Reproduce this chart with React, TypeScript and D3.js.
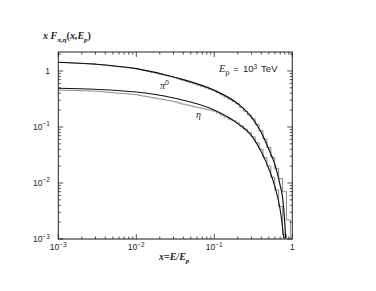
import React from "react";
import * as d3 from "d3";

// smooth curves x F(x)
const piX = [0.001, 0.003, 0.01, 0.03, 0.1, 0.2, 0.3, 0.4, 0.5, 0.6, 0.7, 0.75, 0.8, 0.83];
const piY = [1.43, 1.32, 1.1, 0.78, 0.45, 0.26, 0.15, 0.08, 0.04, 0.021, 0.009, 0.0055, 0.002, 0.0008];

const etaX = [0.001, 0.003, 0.01, 0.03, 0.1, 0.2, 0.3, 0.4, 0.5, 0.6, 0.7, 0.78];
const etaY = [0.49, 0.47, 0.42, 0.33, 0.2, 0.115, 0.07, 0.036, 0.018, 0.0085, 0.0033, 0.001];

// histogram bin edges (20 per decade)
const binEdges = [
  0.001, 0.001059, 0.001189, 0.001334, 0.001496, 0.001679, 0.001884, 0.002113, 0.002371, 0.002661,
  0.002985, 0.00335, 0.003758, 0.004217, 0.004732, 0.005309, 0.005957, 0.006683, 0.007499, 0.008414,
  0.009441, 0.01059, 0.01189, 0.01334, 0.01496, 0.01679, 0.01884, 0.02113, 0.02371, 0.02661,
  0.02985, 0.0335, 0.03758, 0.04217, 0.04732, 0.05309, 0.05957, 0.06683, 0.07499, 0.08414,
  0.09441, 0.1059, 0.1189, 0.1334, 0.1496, 0.1679, 0.1884, 0.2113, 0.2371, 0.2661,
  0.2985, 0.335, 0.3758, 0.4217, 0.4732, 0.5309, 0.5957, 0.6683, 0.7499, 0.8414, 0.9441,
];

const piHist = [
  1.43, 1.42, 1.41, 1.39, 1.38, 1.37, 1.36, 1.35, 1.34, 1.33,
  1.31, 1.29, 1.27, 1.24, 1.22, 1.2, 1.18, 1.16, 1.14, 1.12,
  1.1, 1.06, 1.02, 0.99, 0.95, 0.92, 0.885, 0.853, 0.824, 0.794,
  0.761, 0.723, 0.686, 0.65, 0.617, 0.585, 0.555, 0.526, 0.5, 0.474,
  0.45, 0.411, 0.375, 0.342, 0.312, 0.285, 0.26, 0.223, 0.191, 0.163,
  0.14, 0.11, 0.086, 0.061, 0.043, 0.029, 0.018, 0.012, 0.007, 0.0022,
];

const etaHist = [
  0.456, 0.454, 0.452, 0.45, 0.448, 0.446, 0.444, 0.442, 0.44, 0.438,
  0.433, 0.426, 0.421, 0.414, 0.41, 0.403, 0.399, 0.393, 0.388, 0.382,
  0.378, 0.366, 0.355, 0.346, 0.335, 0.326, 0.318, 0.308, 0.3, 0.291,
  0.281, 0.268, 0.256, 0.248, 0.239, 0.23, 0.221, 0.215, 0.207, 0.2,
  0.192, 0.177, 0.163, 0.15, 0.138, 0.129, 0.119, 0.104, 0.0915, 0.08,
  0.0669, 0.0523, 0.04, 0.0286, 0.02, 0.0127, 0.0075, 0.0038, 0.0012, 0.0003,
];

const xMajor = [1e-3, 1e-2, 1e-1, 1];
const xLabels = [["10", "-3"], ["10", "-2"], ["10", "-1"], ["1", ""]];
const yMajor = [1e-3, 1e-2, 1e-1, 1];
const yLabels = [["10", "-3"], ["10", "-2"], ["10", "-1"], ["1", ""]];

const W = 376;
const H = 291;
const m = { left: 58.3, right: 292.3, top: 52, bottom: 239 };
const sans = "'Liberation Sans', Arial, sans-serif";
const serif = "'Liberation Serif', 'Times New Roman', serif";

const App = () => {
  const x = d3.scaleLog().domain([1e-3, 1]).range([m.left, m.right]);
  const y = d3.scaleLog().domain([1e-3, 2.18]).range([m.bottom, m.top]);

  const smooth = d3
    .line<[number, number]>()
    .x((d) => x(d[0]))
    .y((d) => y(d[1]))
    .curve(d3.curveMonotoneX);

  const step = d3
    .line<[number, number]>()
    .x((d) => x(d[0]))
    .y((d) => y(d[1]))
    .curve(d3.curveStepAfter);

  const histPts = (vals: number[]) => {
    const pts: [number, number][] = vals.map((v, i) => [binEdges[i], v]);
    pts.push([binEdges[vals.length], 1e-5]);
    return pts;
  };

  const minorX: number[] = [];
  const minorY: number[] = [];
  [1e-3, 1e-2, 1e-1].forEach((d) => {
    for (let k = 2; k <= 9; k++) {
      minorX.push(d * k);
      minorY.push(d * k);
    }
  });
  minorY.push(2);

  return (
    <div style={{ position: "absolute", left: 0, top: 0 }}>
      <svg width={W} height={H} style={{ display: "block", background: "#fff" }}>
        <defs>
          <clipPath id="plot">
            <rect x={m.left} y={m.top} width={m.right - m.left} height={m.bottom - m.top} />
          </clipPath>
        </defs>

        <g clipPath="url(#plot)" fill="none">
          <path d={step(histPts(piHist)) || ""} stroke="#8a8a8a" strokeWidth={1} />
          <path d={step(histPts(etaHist)) || ""} stroke="#8a8a8a" strokeWidth={1} />
          <path d={smooth(piX.map((d, i) => [d, piY[i]])) || ""} stroke="#111" strokeWidth={1.2} />
          <path d={smooth(etaX.map((d, i) => [d, etaY[i]])) || ""} stroke="#111" strokeWidth={1.1} />
        </g>

        {/* frame */}
        <rect
          x={m.left}
          y={m.top}
          width={m.right - m.left}
          height={m.bottom - m.top}
          fill="none"
          stroke="#222"
          strokeWidth={1}
        />
        <line x1={m.left} x2={m.right} y1={m.bottom} y2={m.bottom} stroke="#888" strokeWidth={1.6} />

        {/* ticks on all four sides */}
        <g stroke="#222" strokeWidth={0.8}>
          {xMajor.map((d, i) => (
            <g key={"xM" + i}>
              <line x1={x(d)} x2={x(d)} y1={m.bottom} y2={m.bottom - 5} />
              <line x1={x(d)} x2={x(d)} y1={m.top} y2={m.top + 5} />
            </g>
          ))}
          {minorX.map((d, i) => (
            <g key={"xm" + i}>
              <line x1={x(d)} x2={x(d)} y1={m.bottom} y2={m.bottom - 2.5} />
              <line x1={x(d)} x2={x(d)} y1={m.top} y2={m.top + 2.5} />
            </g>
          ))}
          {yMajor.map((d, i) => (
            <g key={"yM" + i}>
              <line x1={m.left} x2={m.left + 5} y1={y(d)} y2={y(d)} />
              <line x1={m.right} x2={m.right - 5} y1={y(d)} y2={y(d)} />
            </g>
          ))}
          {minorY.map((d, i) => (
            <g key={"ym" + i}>
              <line x1={m.left} x2={m.left + 2.5} y1={y(d)} y2={y(d)} />
              <line x1={m.right} x2={m.right - 2.5} y1={y(d)} y2={y(d)} />
            </g>
          ))}
        </g>

        {/* tick labels */}
        <g fontFamily={sans} fontSize={8.5} fill="#222">
          {xMajor.map((d, i) => (
            <text key={"xl" + i} x={x(d)} y={250} textAnchor="middle">
              {xLabels[i][0]}
              {xLabels[i][1] && (
                <tspan fontSize={6.5} dy={-3.5}>
                  {"\u2212" + xLabels[i][1].slice(1)}
                </tspan>
              )}
            </text>
          ))}
          {yMajor.map((d, i) => (
            <text key={"yl" + i} x={50} y={y(d) + 3} textAnchor="end">
              {yLabels[i][0]}
              {yLabels[i][1] && (
                <tspan fontSize={6.5} dy={-3.5}>
                  {"\u2212" + yLabels[i][1].slice(1)}
                </tspan>
              )}
            </text>
          ))}
        </g>

        {/* axis titles */}
        <text x={43} y={39} fontFamily={serif} fontStyle="italic" fontWeight="bold" fontSize={10} fill="#222">
          x F
          <tspan fontSize={7} dy={2.5}>π,η</tspan>
          <tspan dy={-2.5} fontStyle="normal">(</tspan>
          x,E
          <tspan fontSize={7} dy={2.5}>p</tspan>
          <tspan dy={-2.5} fontStyle="normal">)</tspan>
        </text>
        <text x={159} y={260} fontFamily={serif} fontStyle="italic" fontWeight="bold" fontSize={10} fill="#222">
          x=E/E
          <tspan fontSize={7} dy={2.5}>p</tspan>
        </text>

        {/* annotations */}
        <text x={219} y={72} fontSize={9.5} fill="#222" fontFamily={sans}>
          <tspan fontFamily={serif} fontStyle="italic" fontSize={10.5}>E</tspan>
          <tspan fontSize={7} dy={2.5}>p</tspan>
          <tspan dy={-2.5} dx={4}>=</tspan>
          <tspan dx={4}>10</tspan>
          <tspan fontSize={6.5} dy={-3.5}>3</tspan>
          <tspan dy={3.5} dx={4}>TeV</tspan>
        </text>
        <text x={160} y={89} fontFamily={serif} fontStyle="italic" fontSize={10} fill="#222">
          π
          <tspan fontSize={7} dy={-4} fontStyle="normal" fontFamily={sans}>0</tspan>
        </text>
        <text x={196} y={118} fontFamily={serif} fontStyle="italic" fontSize={10} fill="#222">
          η
        </text>
      </svg>
    </div>
  );
};

export default App;
